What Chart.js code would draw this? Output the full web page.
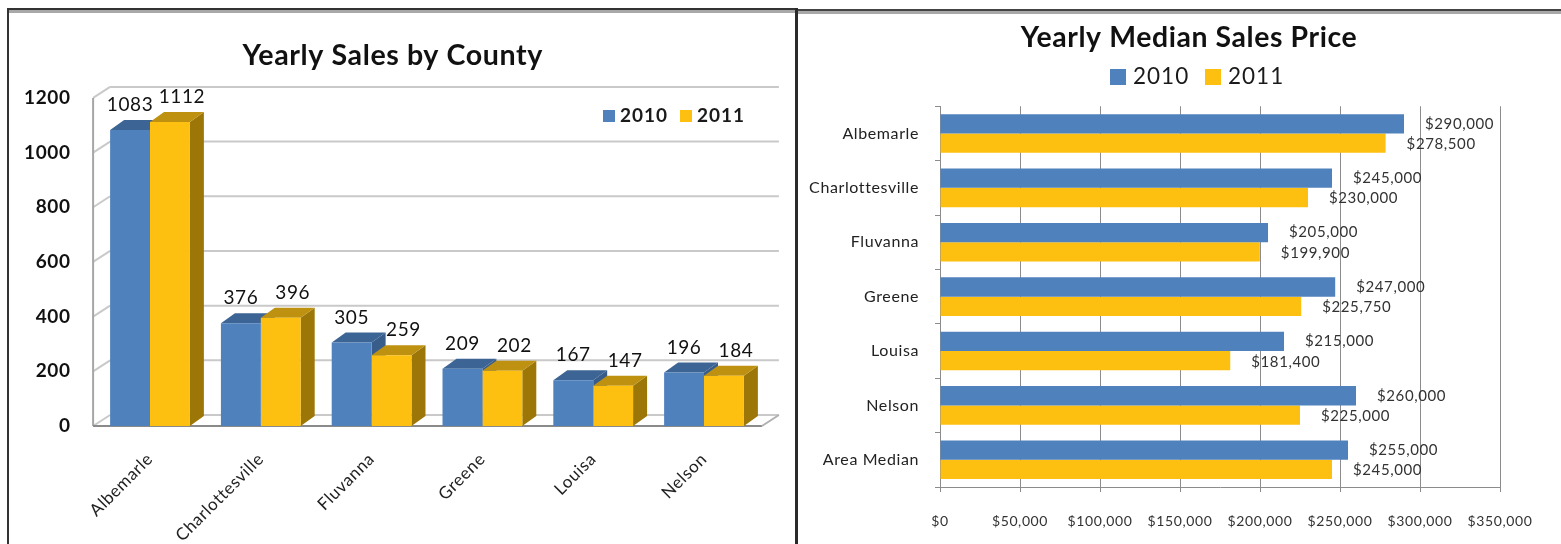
<!DOCTYPE html>
<html>
<head>
<meta charset="utf-8">
<title>Yearly Sales and Median Price</title>
<script src="https://cdn.jsdelivr.net/npm/chart.js@4/dist/chart.umd.min.js"></script>
<style>
  html, body { margin: 0; padding: 0; background: #fff; overflow: hidden; }
  #page { position: relative; width: 1561px; height: 544px; overflow: hidden; }
  canvas { position: absolute; top: 0; }
  #salesChart { left: 0; }
  #priceChart { left: 798px; }
  .line { position: absolute; }
</style>
</head>
<body>
<div id="page">
  <canvas id="salesChart" width="796" height="544"></canvas>
  <canvas id="priceChart" width="763" height="544"></canvas>
  <!-- screenshot frame round the two panels -->
  <div class="line" style="left:7px;top:8px;width:789px;height:2px;background:#333"></div>
  <div class="line" style="left:7px;top:10px;width:789px;height:3px;background:#a8a8a8"></div>
  <div class="line" style="left:7px;top:8px;width:2px;height:536px;background:#333"></div>
  <div class="line" style="left:795px;top:8px;width:3px;height:536px;background:#2a2a2a"></div>
  <div class="line" style="left:798px;top:9px;width:763px;height:2px;background:#444"></div>
  <div class="line" style="left:798px;top:11px;width:763px;height:3px;background:#a8a8a8"></div>
</div>

<script>
const salesCounties = ['Albemarle', 'Charlottesville', 'Fluvanna', 'Greene', 'Louisa', 'Nelson'];
const sales2010 = [1083, 376, 305, 209, 167, 196];
const sales2011 = [1112, 396, 259, 202, 147, 184];

const priceCounties = ['Albemarle', 'Charlottesville', 'Fluvanna', 'Greene', 'Louisa', 'Nelson', 'Area Median'];
const price2010 = [290000, 245000, 205000, 247000, 215000, 260000, 255000];
const price2011 = [278500, 230000, 199900, 225750, 181400, 225000, 245000];

const BLUE = '#4f81bd', YELLOW = '#fdbf10';
const FONT = 'Lato, "Open Sans", sans-serif';
const money = v => '$' + Number(v).toLocaleString('en-US');

// ctx state gets wiped on resize, so set it again before layout and draw
const spacing = px => ({
    id: 'spacing',
    beforeLayout(chart) { chart.ctx.letterSpacing = px + 'px'; },
    beforeDraw(chart) { chart.ctx.letterSpacing = px + 'px'; }
});

const shiftTitle = dx => ({
    id: 'shiftTitle',
    afterLayout(chart) {
        chart.titleBlock.left += dx;
        chart.titleBlock.right += dx;
    }
});

// legend spot is fixed in the reference, the stock legend can't sit there
const fixedLegend = o => ({
    id: 'fixedLegend',
    afterDraw(chart) {
        const ctx = chart.ctx;
        ctx.save();
        ctx.font = `${o.weight} ${o.size}px ${FONT}`;
        ctx.letterSpacing = o.spacing + 'px';
        ctx.textBaseline = 'middle';
        ctx.textAlign = 'left';
        chart.data.datasets.forEach((ds, i) => {
            const x = o.x[i];
            ctx.fillStyle = ds.backgroundColor;
            ctx.fillRect(x, o.y - o.box / 2, o.box, o.box);
            ctx.fillStyle = '#1a1a1a';
            ctx.fillText(ds.label, x + o.box + o.gap, o.y);
        });
        ctx.restore();
    }
});

const valueLabels = o => ({
    id: 'valueLabels',
    afterDatasetsDraw(chart) {
        const ctx = chart.ctx;
        ctx.save();
        ctx.font = o.font;
        ctx.fillStyle = o.color;
        ctx.textBaseline = 'middle';
        ctx.textAlign = o.align;
        chart.data.datasets.forEach((ds, i) => {
            chart.getDatasetMeta(i).data.forEach((bar, j) => {
                ctx.fillText(o.format(ds.data[j]), bar.x + o.dx[i], bar.y + o.dy[i]);
            });
        });
        ctx.restore();
    }
});

// --- 3D look for the column chart ---
const DEPTH_X = 14, DEPTH_Y = 10;
const WALL_X = 17, WALL_Y = 11;
const faceColors = [
    { top: '#3c6494', side: '#385d8a' },
    { top: '#bf9110', side: '#9c7708' }
];

function fillPoly(ctx, color, pts) {
    ctx.fillStyle = color;
    ctx.beginPath();
    pts.forEach((p, i) => i ? ctx.lineTo(p[0], p[1]) : ctx.moveTo(p[0], p[1]));
    ctx.closePath();
    ctx.fill();
}

function strokeLine(ctx, color, width, x1, y1, x2, y2) {
    ctx.strokeStyle = color;
    ctx.lineWidth = width;
    ctx.beginPath();
    ctx.moveTo(x1, y1);
    ctx.lineTo(x2, y2);
    ctx.stroke();
}

const box3d = {
    id: 'box3d',
    beforeDatasetsDraw(chart) {
        const ctx = chart.ctx, yScale = chart.scales.y;
        const axisLeft = chart.chartArea.left - 1.5;
        const axisRight = chart.chartArea.right + 2.5;
        const y0 = yScale.getPixelForValue(0);
        const yMax = yScale.getPixelForValue(yScale.max);
        ctx.save();
        yScale.ticks.forEach(t => {
            const y = yScale.getPixelForValue(t.value);
            strokeLine(ctx, '#c9c9c9', 2, axisLeft + WALL_X, y - WALL_Y, axisRight + WALL_X, y - WALL_Y);
            strokeLine(ctx, '#c9c9c9', 2, axisLeft, y, axisLeft + WALL_X, y - WALL_Y);
        });
        strokeLine(ctx, '#a6a6a6', 2, axisLeft, yMax, axisLeft, y0);
        strokeLine(ctx, '#8a8a8a', 2, axisLeft, y0, axisRight, y0);
        strokeLine(ctx, '#b0b0b0', 2, axisRight, y0, axisRight + WALL_X, y0 - WALL_Y);

        // side and top faces, 2010 first so 2011 sits in front of its side face
        chart.data.datasets.forEach((ds, i) => {
            const colors = faceColors[i];
            chart.getDatasetMeta(i).data.forEach(bar => {
                const l = bar.x - bar.width / 2, r = bar.x + bar.width / 2;
                fillPoly(ctx, colors.side, [[r, bar.y], [r + DEPTH_X, bar.y - DEPTH_Y], [r + DEPTH_X, bar.base - DEPTH_Y], [r, bar.base]]);
                fillPoly(ctx, colors.top, [[l, bar.y], [l + DEPTH_X, bar.y - DEPTH_Y], [r + DEPTH_X, bar.y - DEPTH_Y], [r, bar.y]]);
            });
        });
        ctx.restore();
    }
};

// --- Left: Yearly Sales by County ---
new Chart(document.getElementById('salesChart'), {
    type: 'bar',
    data: {
        labels: salesCounties,
        datasets: [
            { label: '2010', data: sales2010, backgroundColor: BLUE },
            { label: '2011', data: sales2011, backgroundColor: YELLOW }
        ]
    },
    options: {
        responsive: false,
        animation: false,
        layout: { padding: { left: 0, right: 36.6, top: 0, bottom: 0 } },
        datasets: { bar: { categoryPercentage: 0.72, barPercentage: 1 } },
        plugins: {
            legend: { display: false },
            tooltip: { enabled: false },
            title: {
                display: true,
                text: 'Yearly Sales by County',
                color: '#111',
                font: { family: FONT, size: 28.6, weight: 'bold', lineHeight: 1.2 },
                padding: { top: 39, bottom: 24.6 }
            }
        },
        scales: {
            x: {
                grid: { display: false },
                border: { display: false },
                afterFit(scale) { scale.height = 118; },
                ticks: {
                    color: '#222',
                    font: { family: FONT, size: 17 },
                    minRotation: 45,
                    maxRotation: 45,
                    padding: 15,
                    autoSkip: false
                }
            },
            y: {
                min: 0,
                max: 1200,
                grid: { display: false },
                border: { display: false },
                afterFit(scale) { scale.width = 94.6; },
                ticks: {
                    stepSize: 200,
                    color: '#111',
                    padding: 16,
                    font: { family: FONT, size: 19, weight: 'bold' },
                    callback: v => String(v)
                }
            }
        }
    },
    plugins: [
        spacing(0.6),
        shiftTitle(13),
        box3d,
        valueLabels({
            font: `19px ${FONT}`,
            color: '#111',
            align: 'center',
            format: v => String(v),
            dx: [0, 12],
            dy: [-25, -25]
        }),
        fixedLegend({ x: [603, 680], y: 116, box: 12, gap: 5, size: 19, weight: 'bold', spacing: 1 })
    ]
});

// --- Right: Yearly Median Sales Price ---
new Chart(document.getElementById('priceChart'), {
    type: 'bar',
    data: {
        labels: priceCounties,
        datasets: [
            { label: '2010', data: price2010, backgroundColor: BLUE },
            { label: '2011', data: price2011, backgroundColor: YELLOW }
        ]
    },
    options: {
        indexAxis: 'y',
        responsive: false,
        animation: false,
        layout: { padding: { left: 0, right: 61, top: 0, bottom: 0 } },
        datasets: { bar: { categoryPercentage: 0.71, barPercentage: 1 } },
        plugins: {
            legend: { display: false },
            tooltip: { enabled: false },
            title: {
                display: true,
                text: 'Yearly Median Sales Price',
                color: '#111',
                font: { family: FONT, size: 28.4, weight: 'bold', lineHeight: 1.2 },
                padding: { top: 21, bottom: 51.2 }
            }
        },
        scales: {
            x: {
                min: 0,
                max: 350000,
                grid: { color: '#8c8c8c', lineWidth: 1, tickLength: 5 },
                border: { color: '#8c8c8c' },
                afterFit(scale) { scale.height = 57; },
                ticks: {
                    stepSize: 50000,
                    color: '#333',
                    padding: 21,
                    maxRotation: 0,
                    font: { family: FONT, size: 14 },
                    callback: v => money(v)
                }
            },
            y: {
                grid: { color: '#8c8c8c', drawOnChartArea: false, tickLength: 5 },
                border: { color: '#8c8c8c' },
                afterFit(scale) { scale.width = 142; },
                ticks: {
                    color: '#222',
                    padding: 16,
                    autoSkip: false,
                    font: { family: FONT, size: 16 }
                }
            }
        }
    },
    plugins: [
        spacing(0.6),
        shiftTitle(40),
        valueLabels({
            font: `15px ${FONT}`,
            color: '#333',
            align: 'left',
            format: money,
            dx: [21, 21],
            dy: [0, 1]
        }),
        fixedLegend({ x: [312, 407], y: 77, box: 16, gap: 7, size: 22.5, weight: 'normal', spacing: 1 })
    ]
});
</script>
</body>
</html>
